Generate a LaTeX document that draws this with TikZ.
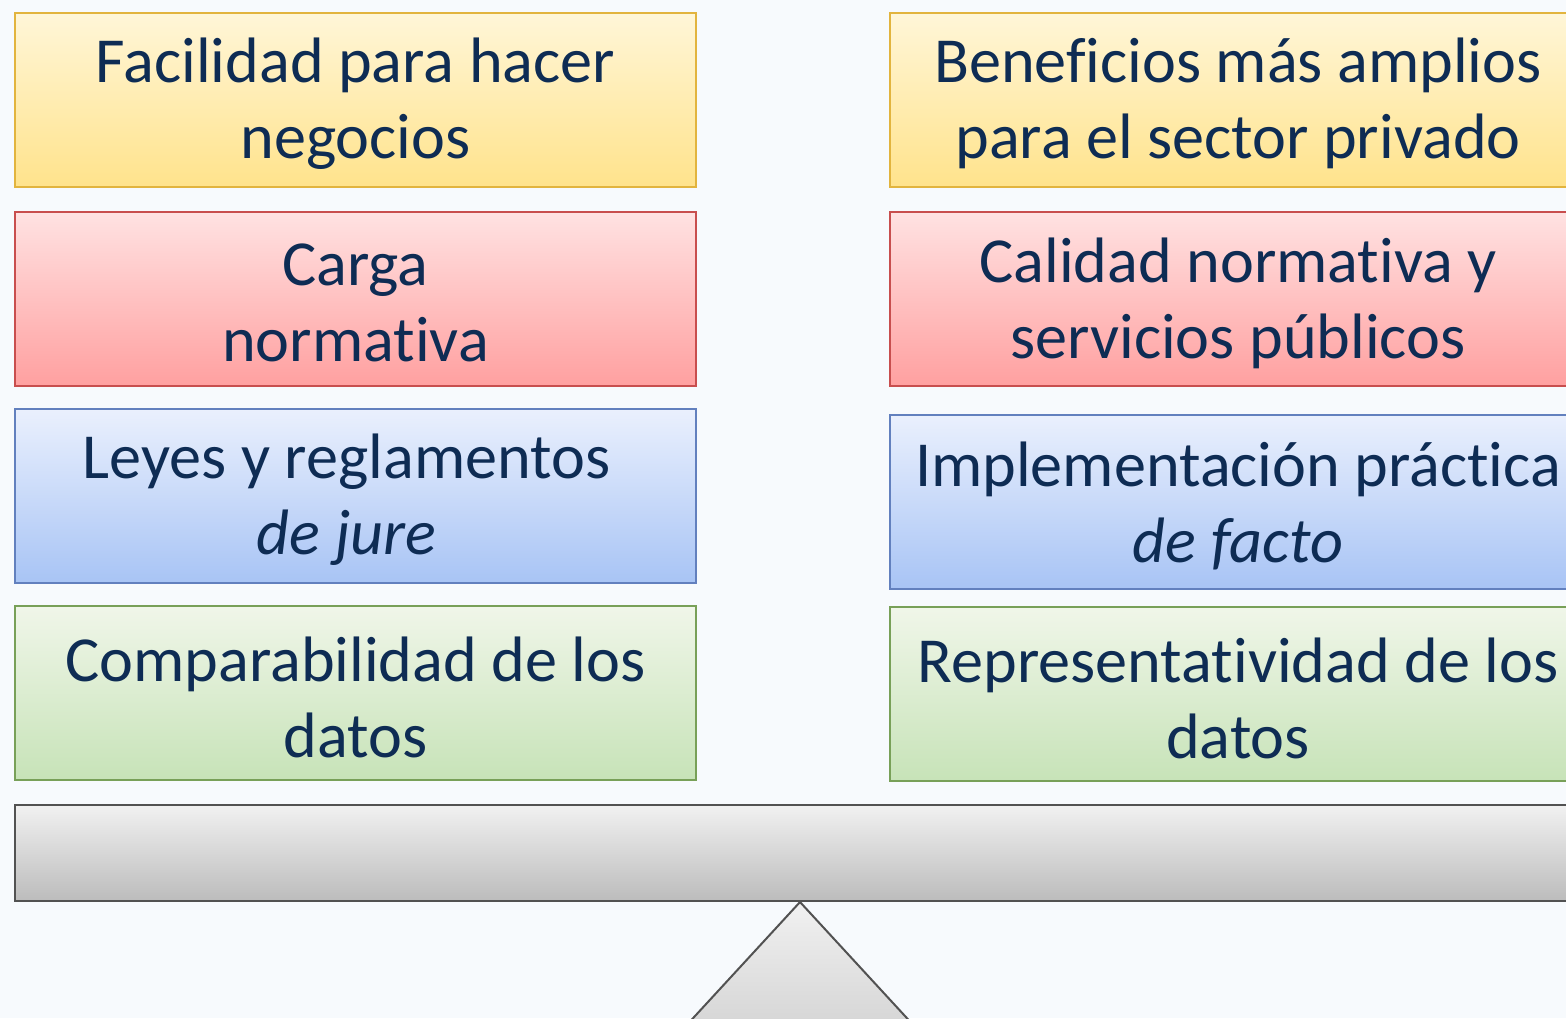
\documentclass[tikz,border=0pt]{standalone}
\usepackage{fontspec}
\setmainfont{Carlito}[Ligatures=NoCommon]
\definecolor{bg}{RGB}{247,250,253}
\definecolor{txt}{RGB}{14,44,84}
\definecolor{yTop}{RGB}{255,246,216}
\definecolor{yBot}{RGB}{255,227,140}
\definecolor{yBrd}{RGB}{226,180,62}
\definecolor{rTop}{RGB}{255,226,226}
\definecolor{rBot}{RGB}{255,160,160}
\definecolor{rBrd}{RGB}{200,78,78}
\definecolor{bTop}{RGB}{234,240,253}
\definecolor{bBot}{RGB}{168,196,245}
\definecolor{bBrd}{RGB}{98,128,190}
\definecolor{gTop}{RGB}{240,246,233}
\definecolor{gBot}{RGB}{199,227,184}
\definecolor{gBrd}{RGB}{120,160,88}
\definecolor{kTop}{RGB}{241,241,241}
\definecolor{kBot}{RGB}{188,188,188}
\definecolor{kBrd}{RGB}{82,82,82}
\tikzset{
  card/.style={rectangle, draw, line width=1pt, minimum width=340.5pt, minimum height=87pt,
    inner sep=0pt},
  wide/.style={card, minimum width=348pt},
  lbl/.style={inner sep=0pt, align=center, text=txt, font=\fontsize{32.1}{38}\selectfont},
  ycard/.style={top color=yTop, bottom color=yBot, draw=yBrd},
  rcard/.style={top color=rTop, bottom color=rBot, draw=rBrd},
  bcard/.style={top color=bTop, bottom color=bBot, draw=bBrd},
  gcard/.style={top color=gTop, bottom color=gBot, draw=gBrd},
}
\begin{document}
\begin{tikzpicture}[x=0.5pt,y=-0.5pt]
\useasboundingbox (0,0) rectangle (1566,1018);
\fill[bg] (0,0) rectangle (1566,1018);
\clip (0,0) rectangle (1566,1018);
% left column
\node[card,ycard] (l1) at (355.5,99.5) {};
\node[card,rcard] (l2) at (355.5,299) {};
\node[card,bcard] (l3) at (355.5,496) {};
\node[card,gcard] (l4) at (355.5,693) {};
\node[lbl] (l1t) at ([yshift=-2pt]l1.center) {Facilidad para hacer\\negocios};
\node[lbl] (l2t) at ([yshift=-2pt]l2.center) {Carga\\normativa};
\node[lbl] (l3t) at ([xshift=-4.5pt,yshift=-2pt]l3.center) {Leyes y reglamentos\\\textit{de jure}};
\node[lbl] (l4t) at ([yshift=-2pt]l4.center) {Comparabilidad de los\\datos};
% right column
\node[wide,ycard] (r1) at (1238,99.5) {};
\node[wide,rcard] (r2) at (1238,299) {};
\node[wide,bcard] (r3) at (1238,501.5) {};
\node[wide,gcard] (r4) at (1238,694) {};
\node[lbl] (r1t) at ([yshift=-2pt]r1.center) {Beneficios más amplios\\para el sector privado};
\node[lbl] (r2t) at ([yshift=-2pt]r2.center) {Calidad normativa y\\servicios públicos};
\node[lbl] (r3t) at ([yshift=-2pt]r3.center) {Implementación práctica\\\textit{de facto}};
\node[lbl] (r4t) at ([yshift=-2pt]r4.center) {Representatividad de los\\datos};
% beam and fulcrum
\node[rectangle, draw=kBrd, line width=1pt, top color=kTop, bottom color=kBot,
  minimum width=785pt, minimum height=48pt, inner sep=0pt] (beam) at (800,853) {};
\coordinate (apex) at (800,902);
\fill[top color=kTop, bottom color=kBot] (apex) -- (579,1142) -- (1021,1142) -- cycle;
\draw[kBrd, line width=1pt] (579,1142) -- (apex) -- (1021,1142);
\end{tikzpicture}
\end{document}
